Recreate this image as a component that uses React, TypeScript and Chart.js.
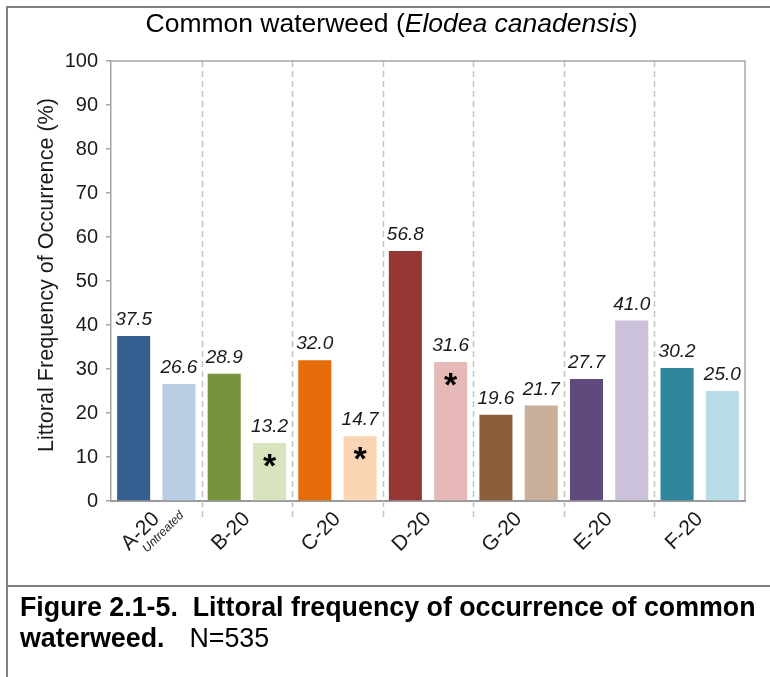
import React, { useEffect, useRef } from 'react';
import { Chart, registerables } from 'chart.js';

Chart.register(...registerables);

const categories = ['A-20', 'B-20', 'C-20', 'D-20', 'G-20', 'E-20', 'F-20'];
const firstValues = [37.5, 28.9, 32.0, 56.8, 19.6, 27.7, 30.2];
const secondValues = [26.6, 13.2, 14.7, 31.6, 21.7, 41.0, 25.0];
const firstColors = ['#365F91', '#77933C', '#E46C0A', '#953735', '#8B5E3C', '#604A7B', '#31859C'];
const secondColors = ['#B9CDE5', '#D7E4BD', '#FCD5B5', '#E6B9B8', '#C9AF9A', '#CCC1DA', '#B7DEE8'];
const significant = [false, true, true, true, false, false, false];
const yMin = 0;
const yMax = 100;
const yStep = 5;
const yTitle = 'Littoral Frequency of Occurrence (%)';

const FONT = '"Liberation Sans", Arial, sans-serif';

const decorPlugin = {
  id: 'decor',
  beforeDatasetsDraw(chart: any) {
    const { ctx, chartArea } = chart;
    const xs = chart.scales.x;
    ctx.save();
    ctx.strokeStyle = '#c4c4c4';
    ctx.lineWidth = 1.5;
    ctx.setLineDash([6, 4]);
    for (let i = 0; i < categories.length - 1; i++) {
      const x = Math.round((xs.getPixelForValue(i) + xs.getPixelForValue(i + 1)) / 2) + 0.5;
      ctx.beginPath();
      ctx.moveTo(x, chartArea.top);
      ctx.lineTo(x, chartArea.bottom + 20);
      ctx.stroke();
    }
    ctx.restore();
  },
  afterDatasetsDraw(chart: any) {
    const { ctx, chartArea } = chart;
    ctx.save();
    ctx.strokeStyle = '#a6a6a6';
    ctx.lineWidth = 1.5;
    ctx.beginPath();
    ctx.moveTo(chartArea.left, chartArea.top);
    ctx.lineTo(chartArea.right, chartArea.top);
    ctx.lineTo(chartArea.right, chartArea.bottom);
    ctx.stroke();

    chart.data.datasets.forEach((ds: any, di: number) => {
      const meta = chart.getDatasetMeta(di);
      meta.data.forEach((bar: any, i: number) => {
        const v = ds.data[i];
        ctx.fillStyle = '#1a1a1a';
        ctx.textAlign = 'center';
        ctx.textBaseline = 'alphabetic';
        ctx.font = `italic 19px ${FONT}`;
        ctx.fillText(v.toFixed(1), bar.x, bar.y - 11);
        if (di === 1 && significant[i]) {
          ctx.fillStyle = '#000';
          ctx.font = `bold 34px ${FONT}`;
          ctx.fillText('*', bar.x, bar.y + 34);
        }
      });
    });
    ctx.restore();
  },
  afterDraw(chart: any) {
    const { ctx, chartArea } = chart;
    const xs = chart.scales.x;
    ctx.save();
    ctx.translate(xs.getPixelForValue(0) + 7, chartArea.bottom + 31);
    ctx.rotate(-Math.PI / 4);
    ctx.font = `italic 12px ${FONT}`;
    ctx.fillStyle = '#1a1a1a';
    ctx.textAlign = 'center';
    ctx.textBaseline = 'middle';
    ctx.fillText('Untreated', 0, 0);
    ctx.restore();

    ctx.save();
    ctx.translate(47, (chartArea.top + chartArea.bottom) / 2 - 6);
    ctx.rotate(-Math.PI / 2);
    ctx.font = `21.6px ${FONT}`;
    ctx.fillStyle = '#1a1a1a';
    ctx.textAlign = 'center';
    ctx.textBaseline = 'middle';
    ctx.fillText(yTitle, 0, 0);
    ctx.restore();
  },
};

function ChartView() {
  const ref = useRef<HTMLCanvasElement | null>(null);
  useEffect(() => {
    if (!ref.current) return;
    const chart = new Chart(ref.current, {
      type: 'bar',
      data: {
        labels: categories,
        datasets: [
          { data: firstValues, backgroundColor: firstColors, borderWidth: 0 },
          { data: secondValues, backgroundColor: secondColors, borderWidth: 0 },
        ],
      },
      options: {
        responsive: true,
        maintainAspectRatio: false,
        animation: false,
        events: [],
        datasets: { bar: { categoryPercentage: 1, barPercentage: 0.73 } },
        layout: { padding: { top: 61, right: 25, left: 30, bottom: 0 } },
        plugins: { legend: { display: false }, tooltip: { enabled: false }, title: { display: false } },
        scales: {
          x: {
            afterFit: (s: any) => { s.height = 85; },
            grid: { display: true, drawOnChartArea: false, drawTicks: false },
            border: { display: true, color: '#999999', width: 2 },
            ticks: {
              color: '#1a1a1a',
              font: { family: FONT, size: 21 },
              minRotation: 45,
              maxRotation: 45,
              padding: 6,
              autoSkip: false,
            },
          },
          y: {
            min: yMin,
            max: yMax,
            afterFit: (s: any) => { s.width = 81; },
            grid: { drawOnChartArea: false, drawTicks: true, tickLength: 5, color: '#a6a6a6', lineWidth: 1.5 },
            border: { display: true, color: '#a6a6a6', width: 1.5 },
            ticks: {
              stepSize: yStep,
              color: '#1a1a1a',
              font: { family: FONT, size: 20 },
              padding: 8,
              callback: (v: any) => (Number(v) % 10 === 0 ? String(v) : ''),
            },
            title: { display: false },
          },
        },
      },
      plugins: [decorPlugin],
    });
    return () => chart.destroy();
  }, []);
  return <canvas ref={ref} />;
}

export default function App() {
  return (
    <div style={{ position: 'fixed', left: 0, top: 0, width: 770, height: 677, background: '#fff', overflow: 'hidden', fontFamily: FONT }}>
      <div style={{ position: 'absolute', left: 0, top: 0, width: 770, height: 586 }}>
        <ChartView />
      </div>
      <div style={{ position: 'absolute', left: 6, top: 6, width: 800, height: 700, borderLeft: '2px solid #808080', borderTop: '2px solid #808080', boxSizing: 'border-box' }} />
      <div style={{ position: 'absolute', left: 6, top: 585, width: 800, height: 2, background: '#808080' }} />
      <div style={{ position: 'absolute', left: 0, top: 8, width: 783, textAlign: 'center', fontSize: 26.5, color: '#000', lineHeight: '30px' }}>
        Common waterweed (<i>Elodea canadensis</i>)
      </div>
      <div style={{ position: 'absolute', left: 20, top: 592, fontSize: 26.8, lineHeight: '31px', color: '#000', whiteSpace: 'pre' }}>
        <b>{'Figure 2.1-5.  Littoral frequency of occurrence of common'}</b>
        <br />
        <b>{'waterweed.'}</b><span style={{ marginLeft: 25 }}>N=535</span>
      </div>
    </div>
  );
}
